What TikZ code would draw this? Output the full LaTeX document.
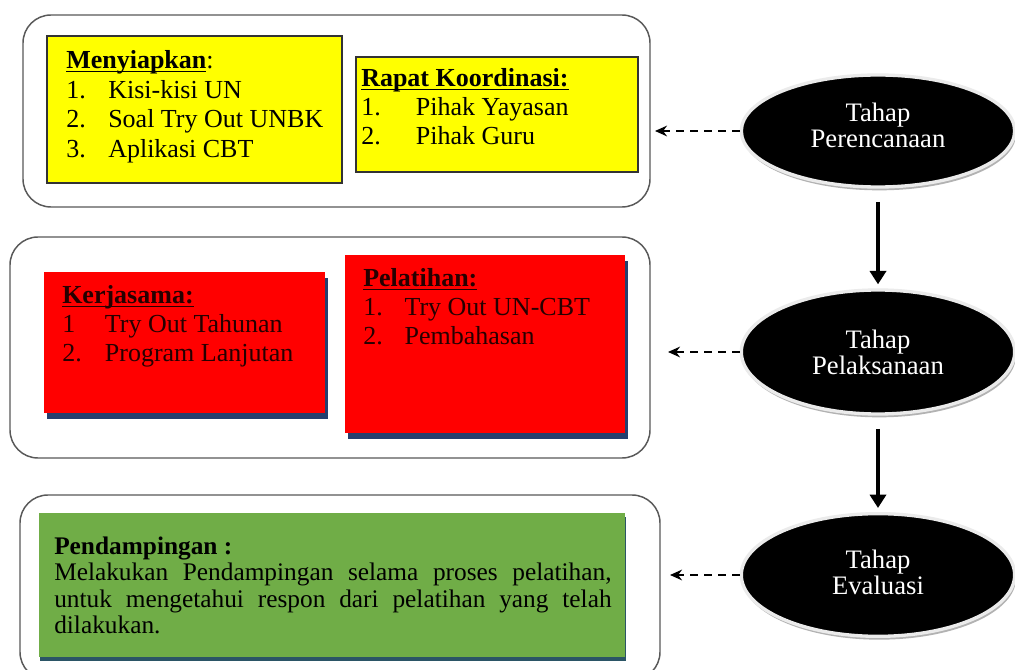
\documentclass[tikz,border=0pt]{standalone}
\usepackage{fontspec}
\setmainfont{Liberation Serif}
\usetikzlibrary{shapes.geometric,arrows.meta,shadows,fit}
\definecolor{yel}{HTML}{FFFF00}
\definecolor{redbox}{HTML}{FF0000}
\definecolor{grn}{HTML}{70AD47}
\definecolor{navyshadow}{HTML}{243F6E}
\definecolor{grnshadow}{HTML}{2B5566}
\newcommand\myul[1]{\setbox0\hbox{#1}\rlap{\rule[-2.5pt]{\wd0}{1pt}}\box0}
\begin{document}
\begin{tikzpicture}[x=0.75pt,y=-0.75pt,
  outerbox/.style={draw=black!65, line width=1.1pt, rounded corners=21pt, inner sep=0pt, fill=white},
  ybox/.style={draw=black!80, line width=0.8pt, fill=yel, inner sep=0pt},
  rbox/.style={fill=redbox, inner sep=0pt, drop shadow={shadow xshift=2.2pt, shadow yshift=-4.5pt, fill=navyshadow, opacity=1}},
  gbox/.style={fill=grn, inner sep=0pt, drop shadow={shadow xshift=0.6pt, shadow yshift=-3.2pt, fill=grnshadow, opacity=1}},
  stage/.style={ellipse, fill=black, draw=black!8, line width=2.5pt, text=white, align=center, inner sep=0pt, minimum width=205pt, font=\fontsize{20}{19.5}\selectfont, drop shadow={shadow xshift=1pt, shadow yshift=-2.5pt, fill=black!30, opacity=1}},
  txt/.style={anchor=base west, inner sep=0pt, font=\fontsize{19.5}{22}\selectfont},
  rtxt/.style={txt, text=black!85!red},
  solidarrow/.style={line width=3pt, -{Triangle[width=12pt,length=10pt]}, shorten <=10pt, shorten >=3pt},
  dasharrow/.style={line width=1.4pt, dash pattern=on 6pt off 4.5pt, -{Stealth[length=9pt,width=8pt]}}
]
\useasboundingbox (0,0) rectangle (1015,670);
\fill[white] (0,0) rectangle (1015,670);

% outer frames
\node[outerbox, fit={(23,15) (650,207)}] (o1) {};
\node[outerbox, fit={(10,237) (650,458)}] (o2) {};
\node[outerbox, fit={(20,495) (660,680)}] (o3) {};

% yellow boxes
\node[ybox, fit={(47,36) (342,183)}] (y1) {};
\node[ybox, fit={(356,57) (638,172)}] (y2) {};
% red boxes
\node[rbox, fit={(44,272) (325,413)}] (r1) {};
\node[rbox, fit={(345,255) (625,433)}] (r2) {};
% green box
\node[gbox, fit={(39,513) (625,657)}] (g) {};

% texts yellow 1
\node[txt] (m0) at (66,69) {\myul{\textbf{Menyiapkan}}:};
\node[txt] (m1) at (66,99) {\makebox[31.5pt][l]{1.}Kisi-kisi UN};
\node[txt] (m2) at (66,128) {\makebox[31.5pt][l]{2.}Soal Try Out UNBK};
\node[txt] (m3) at (66,158) {\makebox[31.5pt][l]{3.}Aplikasi CBT};
% texts yellow 2
\node[txt] (k0) at (361,87) {\myul{\textbf{Rapat Koordinasi:}}};
\node[txt] (k1) at (361,116) {\makebox[41pt][l]{1.}Pihak Yayasan};
\node[txt] (k2) at (361,145) {\makebox[41pt][l]{2.}Pihak Guru};
% texts red 1
\node[rtxt] (j0) at (62,304) {\myul{\textbf{Kerjasama:}}};
\node[rtxt] (j1) at (62,333) {\makebox[32pt][l]{1}Try Out Tahunan};
\node[rtxt] (j2) at (62,362) {\makebox[32pt][l]{2.}Program Lanjutan};
% texts red 2
\node[rtxt] (p0) at (363,287) {\myul{\textbf{Pelatihan:}}};
\node[rtxt] (p1) at (363,316) {\makebox[31pt][l]{1.}Try Out UN-CBT};
\node[rtxt] (p2) at (363,345) {\makebox[31pt][l]{2.}Pembahasan};
% texts green
\node[txt, font=\fontsize{19}{20}\selectfont] (g0) at (54,555) {\textbf{Pendampingan :}};
\node[anchor=north west, inner sep=0pt, text width=418pt, align=justify, font=\fontsize{19}{20}\selectfont] (g1) at (54,561.5)
  {\strut Melakukan Pendampingan selama proses pelatihan,\linebreak untuk mengetahui respon dari pelatihan yang telah\linebreak dilakukan.};

% stages
\node[stage, minimum height=84pt, text depth=8pt] (e1) at (878,131) {Tahap\\Perencanaan};
\node[stage, minimum height=93pt] (e2) at (878,352) {Tahap\\Pelaksanaan};
\node[stage, minimum height=92pt, text depth=4pt] (e3) at (878,575) {Tahap\\Evaluasi};

% connectors
\draw[solidarrow] (e1.south) -- (e2.north);
\draw[solidarrow] (e2.south) -- (e3.north);

\coordinate (h1) at (655,131);
\coordinate (h2) at (668,352);
\coordinate (h3) at (670,575);
\draw[dasharrow] (e1.west) -- (h1);
\draw[dasharrow] (e2.west) -- (h2);
\draw[dasharrow] (e3.west) -- (h3);
\end{tikzpicture}
\end{document}
